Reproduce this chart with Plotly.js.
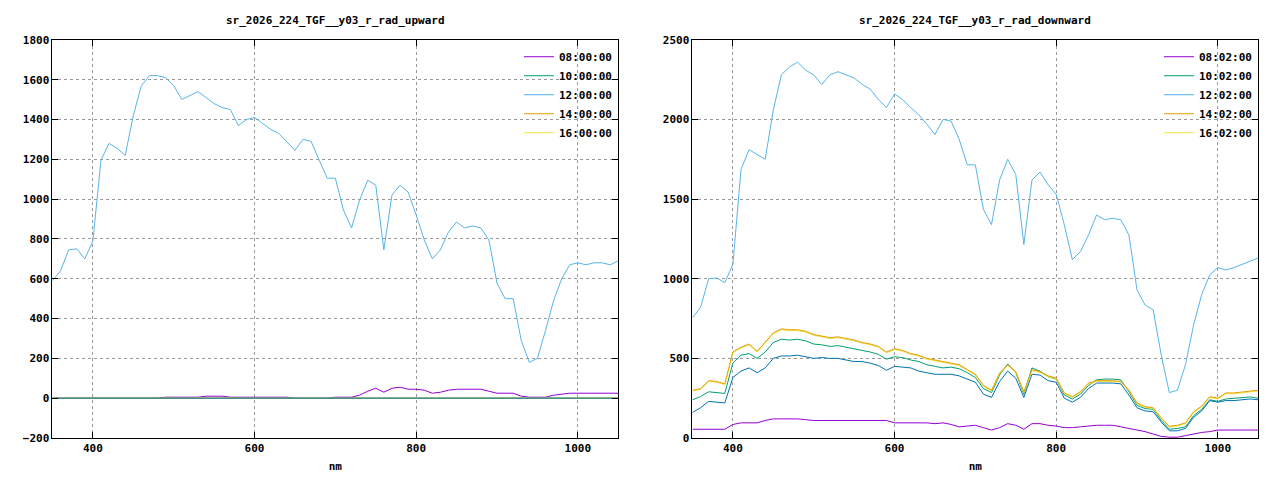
<!DOCTYPE html>
<html>
<head>
<meta charset="utf-8">
<script src="https://cdn.plot.ly/plotly-3.0.1.min.js"></script>
<style>body{margin:0;background:#fff}#plot{width:1280px;height:480px}</style>
</head>
<body>
<div id="plot"></div>
<script>
// wavelengths, 350..1050 nm every 10 nm
var nm = [350,360,370,380,390,400,410,420,430,440,450,460,470,480,490,500,510,520,530,540,550,560,570,580,590,600,610,620,630,640,650,660,670,680,690,700,710,720,730,740,750,760,770,780,790,800,810,820,830,840,850,860,870,880,890,900,910,920,930,940,950,960,970,980,990,1000,1010,1020,1030,1040,1050];

// upward (left)
var up_0800 = [0,0,0,0,0,0,0,0,0,0,0,0,0,0,5,5,5,5,5,10,10,10,5,5,5,5,5,5,5,5,0,0,0,0,0,5,5,5,15,35,50,30,50,55,45,45,40,25,30,40,45,45,45,45,35,25,25,25,10,5,5,5,15,20,25,25,25,25,25,25,25];
var up_1200 = [590,640,745,750,700,790,1195,1280,1255,1220,1420,1570,1620,1620,1610,1570,1500,1520,1540,1510,1480,1460,1450,1370,1400,1410,1380,1350,1330,1290,1245,1300,1290,1195,1105,1105,945,855,995,1095,1070,745,1020,1070,1035,920,795,700,745,835,885,855,865,855,795,578,500,500,290,180,200,340,490,600,670,680,670,680,680,670,690];
var up_zero = nm.map(function(){return 0;});

// downward (right)
var dn_0802 = [55,55,55,55,55,85,95,95,95,110,120,120,120,120,115,110,110,110,110,110,110,110,110,110,110,95,95,95,95,95,90,95,85,70,75,80,65,50,65,90,80,55,90,90,80,75,65,65,70,75,80,80,80,70,60,50,40,25,10,5,5,15,25,35,40,50,50,50,50,50,50];
var dn_1002 = [240,260,290,285,280,470,520,530,500,540,600,620,615,620,610,590,585,575,580,570,560,550,540,525,495,510,505,490,480,460,450,440,445,435,410,380,310,285,395,465,410,275,440,420,385,370,270,245,275,330,365,370,370,365,290,205,185,180,110,55,60,70,140,180,240,230,245,250,255,258,250];
var dn_1202 = [755,820,1000,1005,975,1090,1685,1810,1780,1750,2060,2280,2330,2360,2310,2280,2220,2280,2300,2280,2260,2220,2190,2125,2075,2160,2125,2075,2030,1970,1905,2000,1990,1875,1715,1715,1435,1340,1620,1750,1655,1215,1620,1670,1590,1530,1340,1120,1170,1275,1400,1370,1380,1370,1275,930,835,805,520,285,300,460,710,900,1025,1070,1055,1070,1090,1110,1130];
var dn_1402 = [300,310,360,355,340,540,570,590,545,600,660,685,680,680,670,650,640,630,635,625,615,600,590,575,540,560,550,530,520,500,490,480,470,460,430,400,330,300,408,460,417,290,428,417,390,377,283,260,291,345,360,360,360,355,302,220,197,190,126,73,80,95,165,200,260,250,283,283,288,295,300];
var dn_1602 = [295,305,355,350,335,535,565,585,540,595,655,680,675,675,665,645,635,625,630,620,610,595,585,570,535,555,545,525,515,495,485,475,465,455,425,395,325,295,403,455,412,285,423,412,385,372,278,255,286,340,355,355,355,350,297,215,192,185,121,68,75,90,160,195,255,245,278,278,283,290,295];
var dn_blue = [160,190,230,225,220,380,420,440,410,440,500,515,515,520,510,500,505,500,500,490,480,480,470,455,425,450,445,440,420,410,400,400,400,390,370,350,275,255,355,420,375,255,400,395,360,350,250,225,255,310,345,345,345,340,270,190,170,165,100,45,45,60,130,170,235,225,235,235,240,245,240];

var cols = ['#9400d3','#009e73','#56b4e9','#e69f00','#f0e442','#0072b2'];

function tr(y, name, c, ax, lg, show, rank) {
    return {x: nm, y: y, name: name, type: 'scatter', mode: 'lines',
        line: {color: c, width: 1}, xaxis: 'x' + ax, yaxis: 'y' + ax,
        legend: lg, showlegend: show, legendrank: rank};
}

var data = [
    tr(up_0800, '08:00:00', cols[0], '', 'legend', true, 1),
    tr(up_zero, '10:00:00', cols[1], '', 'legend', true, 2),
    tr(up_1200, '12:00:00', cols[2], '', 'legend', true, 3),
    tr(up_zero, '14:00:00', cols[3], '', 'legend', true, 4),
    tr(up_zero, '16:00:00', cols[4], '', 'legend', true, 5),
    tr(up_zero, '18:00:00', cols[5], '', 'legend', false, 6),
    tr(dn_0802, '08:02:00', cols[0], '2', 'legend2', true, 1),
    tr(dn_1002, '10:02:00', cols[1], '2', 'legend2', true, 2),
    tr(dn_1202, '12:02:00', cols[2], '2', 'legend2', true, 3),
    tr(dn_1602, '16:02:00', cols[4], '2', 'legend2', true, 5),
    tr(dn_1402, '14:02:00', cols[3], '2', 'legend2', true, 4),
    tr(dn_blue, '18:02:00', cols[5], '2', 'legend2', false, 6)
];

var ax = {showline: true, mirror: 'ticks', linecolor: '#000', linewidth: 1,
    ticks: 'inside', ticklen: 6, tickcolor: '#000', zeroline: false,
    showgrid: true, gridcolor: '#999', griddash: 'dot', gridwidth: 1,
    tickfont: {size: 11, color: '#000'}};
function a(o) { return Object.assign({}, ax, o); }

var font = {family: 'DejaVu Sans Mono, monospace', size: 11, color: '#000', weight: 'bold'};
var lgd = {font: font, bgcolor: 'rgba(0,0,0,0)', xanchor: 'right', yanchor: 'top',
    tracegroupgap: 0, itemwidth: 30, traceorder: 'normal'};

var layout = {
    width: 1280, height: 480, margin: {l: 0, r: 0, t: 0, b: 0},
    paper_bgcolor: '#fff', plot_bgcolor: '#fff', font: font,
    xaxis: a({domain: [0.041, 0.483], range: [350, 1050], tickvals: [400,600,800,1000],
        title: {text: 'nm', font: font, standoff: 8}, anchor: 'y'}),
    yaxis: a({domain: [0.0875, 0.917], range: [-200, 1800], dtick: 200, anchor: 'x'}),
    xaxis2: a({domain: [0.541, 0.983], range: [350, 1050], tickvals: [400,600,800,1000],
        title: {text: 'nm', font: font, standoff: 8}, anchor: 'y2'}),
    yaxis2: a({domain: [0.0875, 0.917], range: [0, 2500], dtick: 500, anchor: 'x2'}),
    legend: Object.assign({x: 0.482, y: 0.912}, lgd),
    legend2: Object.assign({x: 0.982, y: 0.912}, lgd),
    annotations: [
        {text: 'sr_2026_224_TGF__y03_r_rad_upward', xref: 'paper', yref: 'paper',
         x: 0.262, y: 0.958, xanchor: 'center', yanchor: 'middle', showarrow: false, font: font},
        {text: 'sr_2026_224_TGF__y03_r_rad_downward', xref: 'paper', yref: 'paper',
         x: 0.762, y: 0.958, xanchor: 'center', yanchor: 'middle', showarrow: false, font: font}
    ]
};

Plotly.newPlot('plot', data, layout, {displayModeBar: false, staticPlot: true});
</script>
</body>
</html>
